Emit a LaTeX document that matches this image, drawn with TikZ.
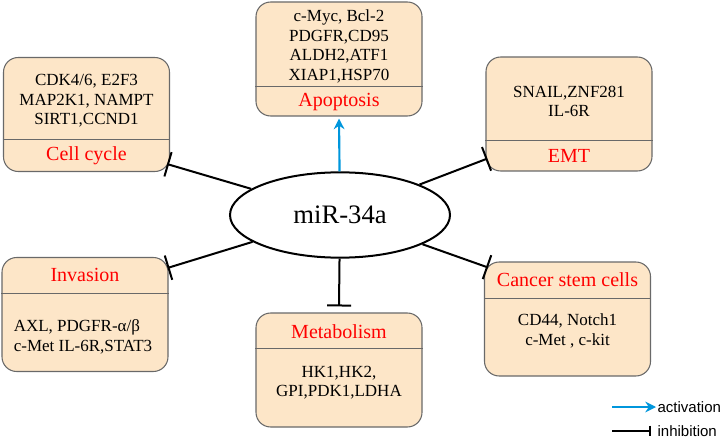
\documentclass[tikz,border=0pt]{standalone}
\usepackage{fontspec}
\setmainfont{Liberation Serif}
\newfontfamily\boxfont{Liberation Serif}
\newfontfamily\legendfont{Liberation Sans}
\usetikzlibrary{shapes.geometric, arrows.meta, positioning, calc}
\definecolor{boxfill}{RGB}{253,230,200}
\definecolor{boxedge}{RGB}{105,105,105}
\definecolor{titlered}{RGB}{255,0,0}
\definecolor{actblue}{RGB}{0,150,220}

\begin{document}
\begin{tikzpicture}[
    x=0.75pt, y=-0.75pt,
    box/.style={draw=boxedge, line width=0.8pt, fill=boxfill, rounded corners=11pt, minimum width=124.5pt, minimum height=85.5pt},
    genes/.style={font=\boxfont\fontsize{12.75}{14.6}\selectfont, align=#1, inner sep=0pt},
    genes/.default=center,
    title/.style={font=\boxfont\fontsize{15}{18}\selectfont, text=titlered, inner sep=0pt},
    divider/.style={draw=boxedge, line width=0.6pt},
    inhibit/.style={-{Bar[width=#1]}, line width=1.5pt},
    inhibit/.default=19pt,
    activate/.style={-{Stealth[length=8pt, width=8pt]}, line width=1.6pt, actblue},
    legend/.style={font=\legendfont\fontsize{11.25}{13}\selectfont, anchor=west, inner sep=1pt}
]
    \useasboundingbox (0,0) rectangle (724,438);

    % Centre
    \node[ellipse, draw, line width=1.5pt, minimum width=165pt, minimum height=64pt, inner sep=0pt, font=\boxfont\fontsize{20}{24}\selectfont] (mir) at (340,215) {miR-34a};

    % Upper boxes
    \node[box] (cc) at (86.5,114.5) {};
    \node[genes] (cc-genes) at (86.5,101) {CDK4/6, E2F3\\MAP2K1, NAMPT\\SIRT1,CCND1};
    \node[title] (cc-title) at (86.5,156) {Cell cycle};
    \draw[divider] (cc.west |- 0,139) -- (cc.east |- 0,139);

    \node[box] (apo) at (339,59) {};
    \node[genes] (apo-genes) at (339,46.5) {c-Myc, Bcl-2\\PDGFR,CD95\\ALDH2,ATF1\\XIAP1,HSP70};
    \node[title] (apo-title) at (339,102) {Apoptosis};
    \draw[divider] (apo.west |- 0,86) -- (apo.east |- 0,86);

    \node[box] (emt) at (569,114) {};
    \node[genes] (emt-genes) at (569,101.5) {SNAIL,ZNF281\\IL-6R};
    \node[title] (emt-title) at (569,156) {EMT};
    \draw[divider] (emt.west |- 0,140) -- (emt.east |- 0,140);

    % Lower boxes
    \node[box] (inv) at (85,314.5) {};
    \node[title] (inv-title) at (85,275) {Invasion};
    \node[genes=left] (inv-genes) at (83,337) {AXL, PDGFR-α/β\\c-Met IL-6R,STAT3};
    \draw[divider] (inv.west |- 0,293) -- (inv.east |- 0,293);

    \node[box] (met) at (339,370) {};
    \node[title] (met-title) at (339,332) {Metabolism};
    \node[genes] (met-genes) at (339,382.5) {HK1,HK2,\\GPI,PDK1,LDHA};
    \draw[divider] (met.west |- 0,348) -- (met.east |- 0,348);

    \node[box] (csc) at (567.5,319) {};
    \node[title] (csc-title) at (567.5,280) {Cancer stem cells};
    \node[genes] (csc-genes) at (567.5,331) {CD44, Notch1\\c-Met , c-kit};
    \draw[divider] (csc.west |- 0,298) -- (csc.east |- 0,298);

    % Connections
    \coordinate (cc-in) at ([shift={(-3,-8)}]cc.south east);
    \coordinate (emt-in) at ([shift={(2,-13)}]emt.south west);
    \coordinate (inv-in) at ([shift={(-1,11)}]inv.north east);
    \coordinate (csc-in) at ([shift={(4,6)}]csc.north west);
    \coordinate (met-in) at ([shift={(0,-6)}]met.north);
    \draw[inhibit] (mir) -- (cc-in);
    \draw[inhibit] (mir) -- (emt-in);
    \draw[inhibit] (mir) -- (inv-in);
    \draw[inhibit] (mir) -- (csc-in);
    \draw[inhibit=18pt] (mir) -- (met-in);
    \draw[activate] (mir) -- ([yshift=-1.5pt]apo.south);

    % Legend
    \node[legend] (act) at (656,407) {activation};
    \node[legend] (inh) at (656,431) {inhibition};
    \coordinate (act-from) at (612,407);
    \coordinate (inh-from) at (612,431);
    \draw[activate] (act-from) -- (act.west);
    \draw[inhibit=8pt] (inh-from) -- ([xshift=-4pt]inh.west);
\end{tikzpicture}
\end{document}
